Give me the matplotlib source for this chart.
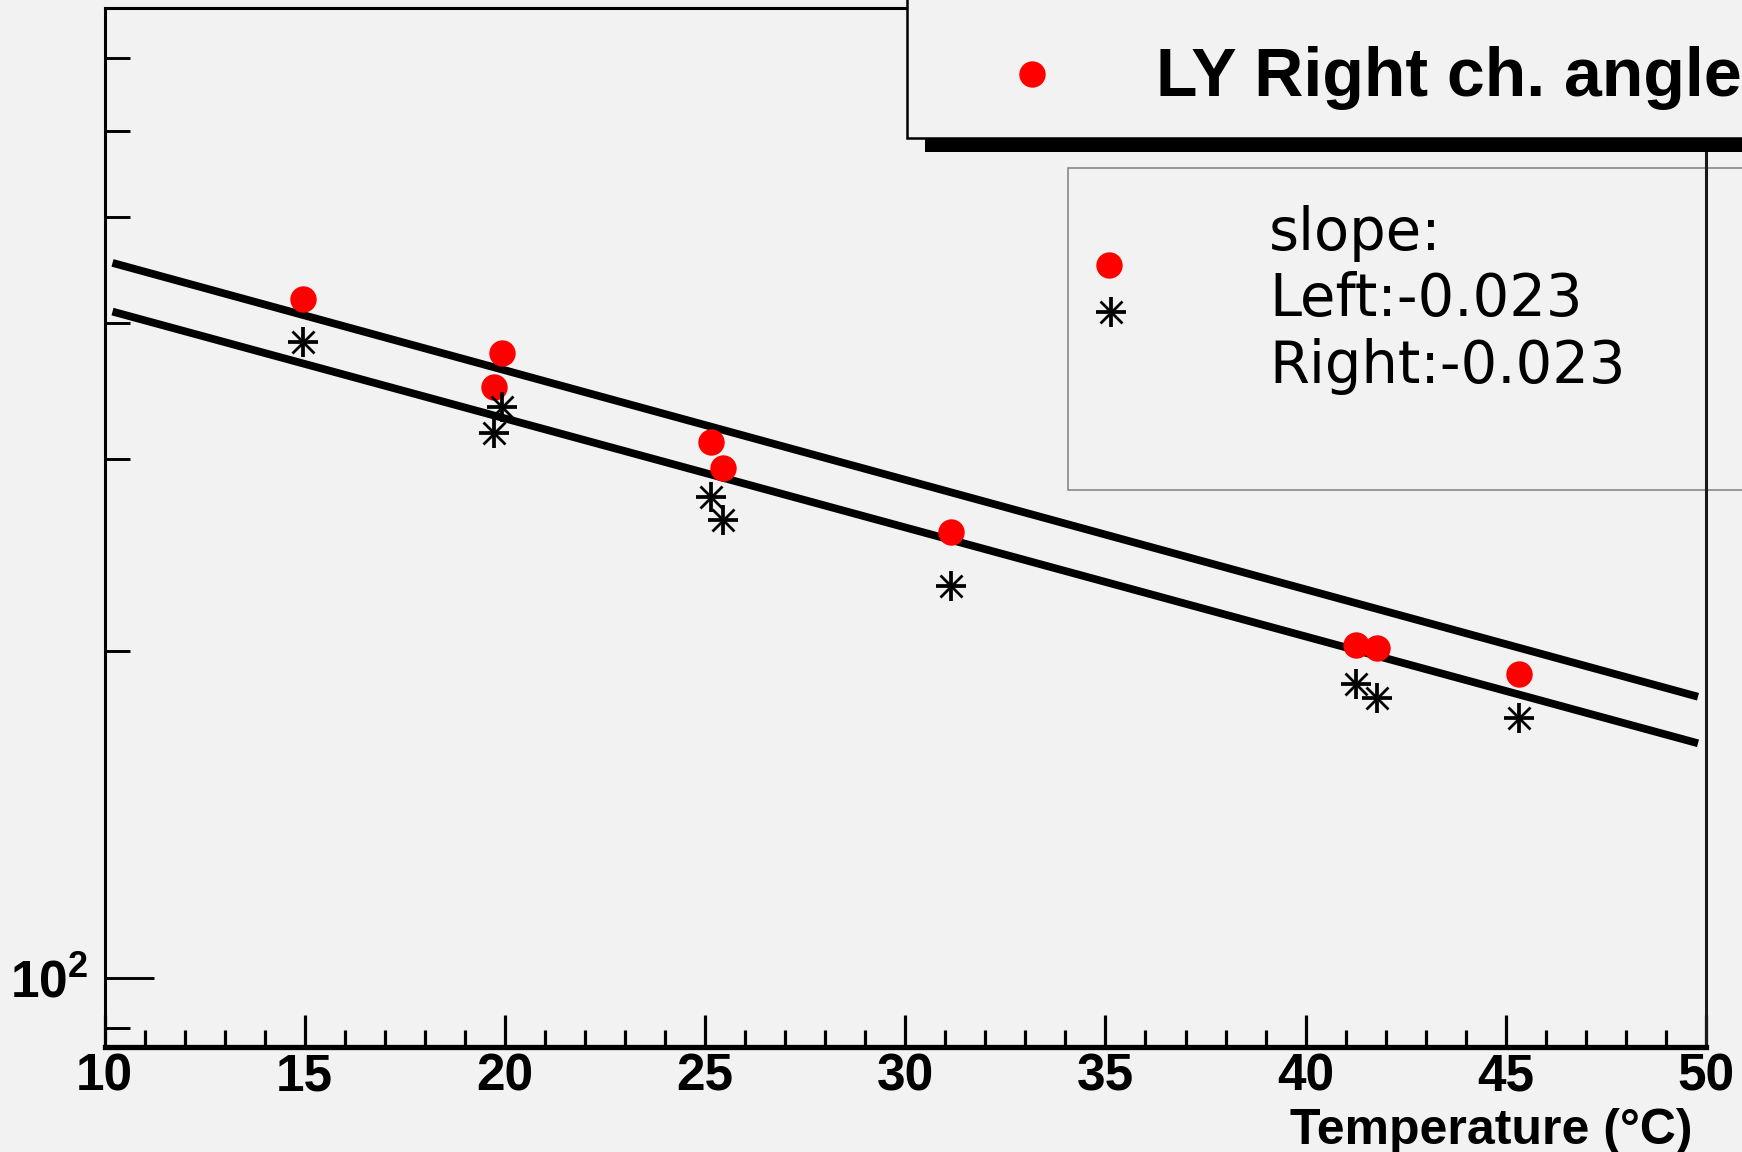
import numpy as np
import matplotlib
matplotlib.use('Agg')
import matplotlib.pyplot as plt
from matplotlib.lines import Line2D
from matplotlib.patches import Rectangle
from matplotlib.ticker import (FixedLocator, LogLocator, NullFormatter,
                               LogFormatterSciNotation, MultipleLocator)

# temperature (deg C) and light yield of the two channels
temperature = [14.95, 19.92, 19.73, 25.16, 25.44, 31.15, 41.25, 41.79, 45.34]
ly_right = [420.3, 374.9, 349.4, 311.0, 294.0, 257.1, 202.4, 201.0, 190.2]
ly_left = [384.3, 335.0, 316.7, 276.9, 263.6, 229.4, 186.3, 180.8, 173.4]

# exponential fits (straight on log axis), end points
fit_t = [10.2, 49.8]
fit_right = [453.9, 181.4]
fit_left = [409.5, 164.4]

legend_label = 'LY Right ch. angle'
slope_lines = ['slope:', 'Left:-0.023', 'Right:-0.023']

W, H = 1742, 1152
BG = '#f2f2f2'

plt.rcParams['font.family'] = ['Liberation Sans', 'DejaVu Sans']
plt.rcParams['font.weight'] = 'bold'
plt.rcParams['mathtext.fontset'] = 'custom'
plt.rcParams['mathtext.rm'] = 'Liberation Sans:bold'
plt.rcParams['mathtext.it'] = 'Liberation Sans:bold'
plt.rcParams['mathtext.bf'] = 'Liberation Sans:bold'


def fx(px):
    return px / W


def fy(py):
    return 1 - py / H


fig = plt.figure(figsize=(W / 100, H / 100), dpi=100, facecolor=BG)
ax = fig.add_axes([fx(104.5), fy(1046.5), (1706 - 104.5) / W, (1046.5 - 8) / H])
ax.set_facecolor(BG)
ax.set_yscale('log')
ax.set_xlim(10, 50)
ax.set_ylim(86.6, 778)

# fits
ax.plot(fit_t, fit_right, color='k', lw=5.6, solid_capstyle='butt', zorder=2)
ax.plot(fit_t, fit_left, color='k', lw=5.6, solid_capstyle='butt', zorder=2)

# points
ax.plot(temperature, ly_right, ls='none', marker='o', ms=19,
        mfc='red', mec='red', mew=0, zorder=3)
ax.plot(temperature, ly_left, ls='none', marker='+', ms=21.6, mew=2.7,
        color='k', zorder=3)
ax.plot(temperature, ly_left, ls='none', marker='x', ms=16.5, mew=2.0,
        color='k', zorder=3)

# ticks
ax.xaxis.set_major_locator(MultipleLocator(5))
ax.xaxis.set_minor_locator(MultipleLocator(1))
ax.yaxis.set_major_locator(FixedLocator([100]))
ax.yaxis.set_major_formatter(LogFormatterSciNotation())
ax.yaxis.set_minor_locator(LogLocator(base=10, subs=np.arange(2, 10)))
ax.yaxis.set_minor_formatter(NullFormatter())

ax.tick_params(axis='x', which='major', direction='in', length=23.4, width=2.3,
               pad=4, labelsize=37, top=False)
ax.tick_params(axis='x', which='minor', direction='in', length=11.9, width=2.3,
               top=False)
ax.tick_params(axis='y', which='major', direction='in', length=35, width=2.1,
               pad=12, labelsize=37, right=False)
ax.tick_params(axis='y', which='minor', direction='in', length=18, width=2.1,
               right=False)

ax.spines['bottom'].set_linewidth(3.8)
ax.spines['left'].set_linewidth(2.2)
ax.spines['top'].set_linewidth(2.2)
ax.spines['right'].set_linewidth(2.2)
ax.spines['right'].set_color('#1a1a1a')

ax.set_xlabel('Temperature (°C)', fontsize=36, fontweight='bold',
              ha='right', va='baseline')
ax.xaxis.set_label_coords((1692 - 104.5) / (1706 - 104.5),
                          -(1144 - 1046.5) / (1046.5 - 8))

# top legend with shadow
fig.add_artist(Rectangle((fx(925), fy(152)), (1760 - 925) / W, (152 - 138) / H,
                         facecolor='k', edgecolor='none', zorder=5))
fig.add_artist(Rectangle((fx(906.5), fy(138)), (1760 - 906.5) / W, (138 + 20) / H,
                         facecolor=BG, edgecolor='k', lw=1.8, zorder=6))
fig.add_artist(Line2D([fx(1032)], [fy(74)], ls='none', marker='o', ms=19,
                      mfc='red', mec='red', mew=0, zorder=7))
fig.text(fx(1155.5), fy(95.5), legend_label, fontsize=49, fontweight='bold',
         ha='left', va='baseline', zorder=7)

# slope box, drawn under the right frame line
ax.add_artist(Rectangle((fx(1067.6), fy(490)), (1760 - 1067.6) / W, (490 - 167.7) / H,
                        transform=fig.transFigure, facecolor=BG, edgecolor='#7f7f7f',
                        lw=1.1, clip_on=False, zorder=1.5))
ax.add_artist(Line2D([fx(1109.3)], [fy(265)], transform=fig.transFigure, ls='none',
                     marker='o', ms=19, mfc='red', mec='red', mew=0,
                     clip_on=False, zorder=3))
ax.add_artist(Line2D([fx(1110.7)], [fy(312.3)], transform=fig.transFigure, ls='none',
                     marker='+', ms=21.6, mew=2.7, color='k', clip_on=False, zorder=3))
ax.add_artist(Line2D([fx(1110.7)], [fy(312.3)], transform=fig.transFigure, ls='none',
                     marker='x', ms=16.5, mew=2.0, color='k', clip_on=False, zorder=3))
for i, line in enumerate(slope_lines):
    fig.text(fx(1269), fy(250 + 66.5 * i), line, fontsize=41.5, family='DejaVu Sans',
             fontweight='normal', ha='left', va='baseline', zorder=7)

fig.savefig('out.png', dpi=100, facecolor=BG)
